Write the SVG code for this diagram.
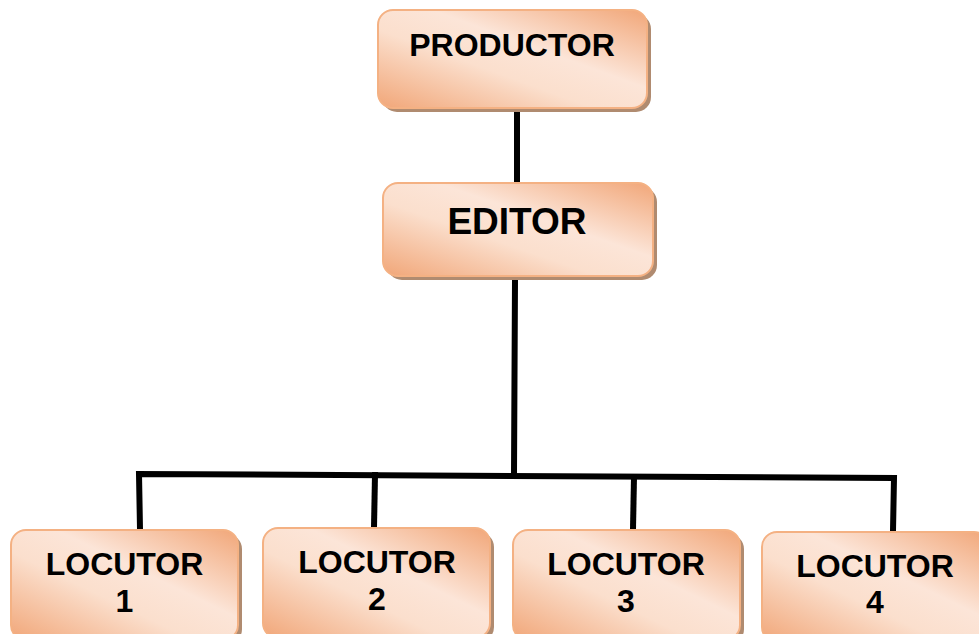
<svg xmlns="http://www.w3.org/2000/svg" width="979" height="634" viewBox="0 0 979 634">
<defs>
<linearGradient id="g" x1="0" y1="1" x2="1" y2="0">
<stop offset="0" stop-color="#f1a678"/>
<stop offset="0.4" stop-color="#fbdfcd"/>
<stop offset="0.6" stop-color="#fce5d8"/>
<stop offset="1" stop-color="#f1a678"/>
</linearGradient>
</defs>
<style>
.box{fill:url(#g);stroke:#f4b183;stroke-width:2}
.sh{fill:#b08b70}
.t{font-family:"Liberation Sans",Arial,sans-serif;font-weight:bold;fill:#000;text-anchor:middle}
.c{stroke:#000;stroke-width:6;fill:none;stroke-linecap:square}
</style>
<g id="connectors">
<line class="c" x1="517" y1="112" x2="517" y2="182"/>
<line class="c" x1="515" y1="280" x2="514" y2="473"/>
<polyline class="c" points="140,529 139,474 894,478 893,531"/>
<line class="c" x1="375" y1="475" x2="374" y2="527"/>
<line class="c" x1="634" y1="477" x2="633" y2="529"/>
</g>
<g id="productor">
<rect class="sh" x="382" y="14" width="269" height="98" rx="15"/>
<rect class="box" x="378" y="10" width="269" height="98" rx="15"/>
<text class="t" x="512" y="56" font-size="32">PRODUCTOR</text>
</g>
<g id="editor">
<rect class="sh" x="387" y="187" width="270" height="93" rx="15"/>
<rect class="box" x="383" y="183" width="270" height="93" rx="15"/>
<text class="t" x="517" y="234" font-size="37">EDITOR</text>
</g>
<g id="locutor1">
<rect class="sh" x="15" y="534" width="227" height="110" rx="15"/>
<rect class="box" x="11" y="530" width="227" height="110" rx="15"/>
<text class="t" x="124.500" y="575" font-size="32">LOCUTOR</text>
<text class="t" x="124.500" y="612" font-size="32">1</text>
</g>
<g id="locutor2">
<rect class="sh" x="267" y="532" width="227" height="110" rx="15"/>
<rect class="box" x="263" y="528" width="227" height="110" rx="15"/>
<text class="t" x="377" y="573" font-size="32">LOCUTOR</text>
<text class="t" x="377" y="610" font-size="32">2</text>
</g>
<g id="locutor3">
<rect class="sh" x="517" y="534" width="227" height="110" rx="15"/>
<rect class="box" x="513" y="530" width="227" height="110" rx="15"/>
<text class="t" x="626" y="575" font-size="32">LOCUTOR</text>
<text class="t" x="626" y="612" font-size="32">3</text>
</g>
<g id="locutor4">
<rect class="sh" x="766" y="536" width="227" height="110" rx="15"/>
<rect class="box" x="762" y="532" width="227" height="110" rx="15"/>
<text class="t" x="875" y="577" font-size="32">LOCUTOR</text>
<text class="t" x="875" y="613" font-size="32">4</text>
</g>
</svg>
